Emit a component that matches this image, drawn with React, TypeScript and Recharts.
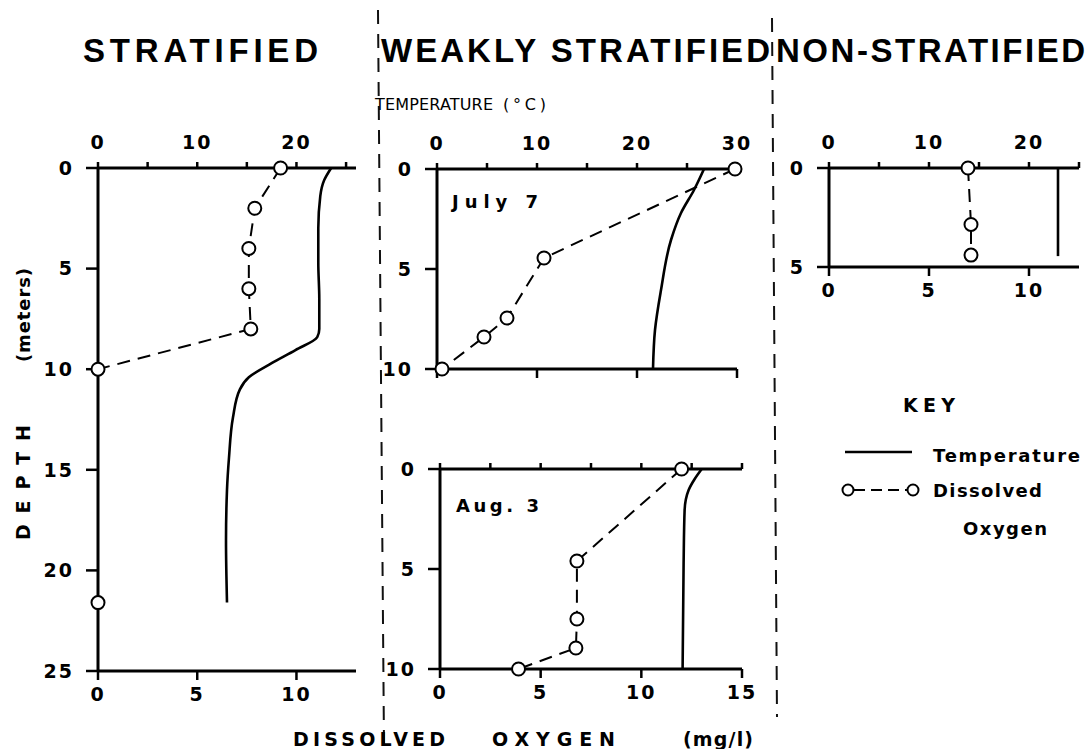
import React from 'react';
import { ScatterChart, Scatter, XAxis, YAxis } from 'recharts';

// Stratified lake: temperature profile (°C) and dissolved oxygen (mg/l) by depth (m)
const stratTempDepth = [0, 0.6, 1.4, 3, 4.7, 6.5, 8.0, 8.4, 9.05, 9.7, 10.4, 11.0, 12.4, 14.4, 16, 18.5, 21.6];
const stratTemp = [23.5, 22.8, 22.4, 22.2, 22.2, 22.3, 22.3, 22.1, 19.9, 17.5, 15.2, 14.3, 13.6, 13.2, 13.0, 12.9, 13.0];
const stratDoDepth = [0, 2, 4, 6, 8, 10];
const stratDo = [9.2, 7.9, 7.6, 7.6, 7.7, 0];
const stratBottomDepth = [21.6];
const stratBottomDo = [0];

// Weakly stratified, July 7
const julyTempDepth = [0, 1.05, 2.2, 3.55, 6.05, 8.05, 10];
const julyTemp = [26.7, 25.7, 24.4, 23.4, 22.4, 21.8, 21.6];
const julyDoDepth = [0, 4.45, 7.45, 8.4, 10];
const julyDo = [14.9, 5.35, 3.5, 2.35, 0.25];

// Weakly stratified, Aug. 3
const augTempDepth = [0, 0.5, 1.05, 2.05, 4.7, 10];
const augTemp = [26.0, 25.3, 24.7, 24.3, 24.2, 24.1];
const augDoDepth = [0, 4.6, 7.5, 8.95, 10];
const augDo = [12.0, 6.8, 6.8, 6.75, 3.9];

// Non-stratified
const nonTempDepth = [0, 4.45];
const nonTemp = [22.9, 22.9];
const nonDoDepth = [0, 2.85, 4.4];
const nonDo = [6.95, 7.1, 7.1];

const toPts = (depth: number[], vals: number[]) => depth.map((d, i) => ({ d, v: vals[i] }));

const FONT = "'DejaVu Sans', 'Liberation Sans', sans-serif";
const tickStyle = { fill: '#000', fontSize: 19, fontWeight: 700, fontFamily: FONT, letterSpacing: 2 };
const axisLine = { stroke: '#000', strokeWidth: 3 };
const tickLine = { stroke: '#000', strokeWidth: 2.5 };

const Circle = (props: any) => (
  <circle cx={props.cx} cy={props.cy} r={6.5} fill="#fff" stroke="#000" strokeWidth={2} />
);
const NoDot = () => <g />;

interface PanelProps {
  plot: [number, number, number, number];
  tDomain: [number, number];
  tTicks: number[];
  tLabels: number[];
  oDomain: [number, number];
  oTicks: number[];
  oLabels: number[];
  dDomain: [number, number];
  dTicks: number[];
  temp: { d: number; v: number }[];
  oxy: { d: number; v: number }[];
  lone?: { d: number; v: number }[];
}

function Panel({ plot, tDomain, tTicks, tLabels, oDomain, oTicks, oLabels, dDomain, dTicks, temp, oxy, lone }: PanelProps) {
  const [x, y, w, h] = plot;
  const W = w + 90;
  const H = h + 88;
  const fmt = (labels: number[]) => (v: number) => (labels.includes(v) ? String(v) : '');
  return (
    <div style={{ position: 'absolute', left: x - 60, top: y - 44, width: W, height: H }}>
      <ScatterChart width={W} height={H} margin={{ top: 0, right: 30, bottom: 0, left: 0 }}>
        <XAxis
          xAxisId="t"
          orientation="top"
          type="number"
          dataKey="v"
          domain={tDomain}
          ticks={tTicks}
          interval={0}
          tickFormatter={fmt(tLabels)}
          height={44}
          axisLine={axisLine}
          tickLine={tickLine}
          tickSize={6}
          tickMargin={13}
          tick={tickStyle}
        />
        <XAxis
          xAxisId="o"
          orientation="bottom"
          type="number"
          dataKey="v"
          domain={oDomain}
          ticks={oTicks}
          interval={0}
          tickFormatter={fmt(oLabels)}
          height={44}
          axisLine={axisLine}
          tickLine={tickLine}
          tickSize={9}
          tickMargin={8}
          tick={tickStyle}
        />
        <YAxis
          yAxisId="d"
          type="number"
          dataKey="d"
          reversed
          domain={dDomain}
          ticks={dTicks}
          interval={0}
          width={60}
          axisLine={axisLine}
          tickLine={tickLine}
          tickSize={12}
          tickMargin={12}
          tick={tickStyle}
        />
        <Scatter
          xAxisId="t"
          yAxisId="d"
          data={temp}
          fill="#000"
          line={{ stroke: '#000', strokeWidth: 2.6 }}
          lineJointType="monotoneY"
          shape={NoDot}
          isAnimationActive={false}
        />
        <Scatter
          xAxisId="o"
          yAxisId="d"
          data={oxy}
          fill="#000"
          line={{ stroke: '#000', strokeWidth: 2, strokeDasharray: '13 8' }}
          shape={Circle}
          isAnimationActive={false}
        />
        {lone && (
          <Scatter xAxisId="o" yAxisId="d" data={lone} fill="#000" shape={Circle} isAnimationActive={false} />
        )}
      </ScatterChart>
    </div>
  );
}

export default function App() {
  const lbl = { fontFamily: FONT, fontWeight: 700, fill: '#000' };
  const title = { fontFamily: "'Liberation Sans', 'DejaVu Sans', sans-serif", fontSize: 33, fontWeight: 700, fill: '#000' };
  return (
    <div style={{ position: 'absolute', left: 0, top: 0, width: 1091, height: 749, background: '#fff', overflow: 'hidden' }}>
      <Panel
        plot={[98, 168, 258, 503]}
        tDomain={[0, 26]}
        tTicks={[0, 5, 10, 15, 20, 25]}
        tLabels={[0, 10, 20]}
        oDomain={[0, 13]}
        oTicks={[0, 5, 10]}
        oLabels={[0, 5, 10]}
        dDomain={[0, 25]}
        dTicks={[0, 5, 10, 15, 20, 25]}
        temp={toPts(stratTempDepth, stratTemp)}
        oxy={toPts(stratDoDepth, stratDo)}
        lone={toPts(stratBottomDepth, stratBottomDo)}
      />
      <Panel
        plot={[437, 169, 300, 200]}
        tDomain={[0, 30]}
        tTicks={[0, 5, 10, 15, 20, 25, 30]}
        tLabels={[0, 10, 20, 30]}
        oDomain={[0, 15]}
        oTicks={[0, 5, 10, 15]}
        oLabels={[]}
        dDomain={[0, 10]}
        dTicks={[0, 5, 10]}
        temp={toPts(julyTempDepth, julyTemp)}
        oxy={toPts(julyDoDepth, julyDo)}
      />
      <Panel
        plot={[440, 469, 302, 200]}
        tDomain={[0, 30]}
        tTicks={[0, 5, 10, 15, 20, 25, 30]}
        tLabels={[]}
        oDomain={[0, 15]}
        oTicks={[0, 5, 10, 15]}
        oLabels={[0, 5, 10, 15]}
        dDomain={[0, 10]}
        dTicks={[0, 5, 10]}
        temp={toPts(augTempDepth, augTemp)}
        oxy={toPts(augDoDepth, augDo)}
      />
      <Panel
        plot={[829, 168, 250, 99]}
        tDomain={[0, 25]}
        tTicks={[0, 5, 10, 15, 20, 25]}
        tLabels={[0, 10, 20]}
        oDomain={[0, 12.5]}
        oTicks={[0, 5, 10]}
        oLabels={[0, 5, 10]}
        dDomain={[0, 5]}
        dTicks={[0, 5]}
        temp={toPts(nonTempDepth, nonTemp)}
        oxy={toPts(nonDoDepth, nonDo)}
      />
      <svg width={1091} height={749} style={{ position: 'absolute', left: 0, top: 0, pointerEvents: 'none' }}>
        <line x1={378} y1={10} x2={384} y2={745} stroke="#111" strokeWidth={2} strokeDasharray="14 10" />
        <line x1={772} y1={18} x2={777} y2={717} stroke="#111" strokeWidth={2} strokeDasharray="14 10" />

        <text x={83} y={62} textLength={235} lengthAdjust="spacing" {...title}>STRATIFIED</text>
        <text x={381} y={62} textLength={389} lengthAdjust="spacing" {...title}>WEAKLY STRATIFIED</text>
        <text x={776} y={62} textLength={309} lengthAdjust="spacing" {...title}>NON-STRATIFIED</text>

        <text x={375} y={110} textLength={118} lengthAdjust="spacing" {...lbl} fontWeight={400} fontSize={16}>TEMPERATURE</text>
        <text x={503} y={110} textLength={43} lengthAdjust="spacing" {...lbl} fontWeight={400} fontSize={16}>(°C)</text>
        <text x={293} y={746} textLength={152} lengthAdjust="spacing" {...lbl} fontSize={19}>DISSOLVED</text>
        <text x={492} y={746} textLength={123} lengthAdjust="spacing" {...lbl} fontSize={19}>OXYGEN</text>
        <text x={683} y={746} textLength={70} lengthAdjust="spacing" {...lbl} fontSize={19}>(mg/l)</text>

        <text transform="translate(30,540) rotate(-90)" textLength={115} lengthAdjust="spacing" {...lbl} fontSize={19}>DEPTH</text>
        <text transform="translate(30,362) rotate(-90)" textLength={94} lengthAdjust="spacing" {...lbl} fontSize={18}>(meters)</text>

        <text x={452} y={208} textLength={86} lengthAdjust="spacing" {...lbl} fontSize={18}>July  7</text>
        <text x={456} y={512} textLength={83} lengthAdjust="spacing" {...lbl} fontSize={18}>Aug.  3</text>

        <text x={903} y={412} textLength={52} lengthAdjust="spacing" {...lbl} fontSize={19}>KEY</text>
        <line x1={845} y1={452} x2={912} y2={452} stroke="#000" strokeWidth={2.6} />
        <text x={933} y={462} textLength={147} lengthAdjust="spacing" {...lbl} fontSize={18}>Temperature</text>
        <line x1={854} y1={490} x2={907} y2={490} stroke="#000" strokeWidth={2} strokeDasharray="11 6" />
        <circle cx={848} cy={490} r={5.5} fill="#fff" stroke="#000" strokeWidth={2} />
        <circle cx={913} cy={490} r={5.5} fill="#fff" stroke="#000" strokeWidth={2} />
        <text x={933} y={497} textLength={109} lengthAdjust="spacing" {...lbl} fontSize={18}>Dissolved</text>
        <text x={963} y={535} textLength={84} lengthAdjust="spacing" {...lbl} fontSize={18}>Oxygen</text>
      </svg>
    </div>
  );
}
